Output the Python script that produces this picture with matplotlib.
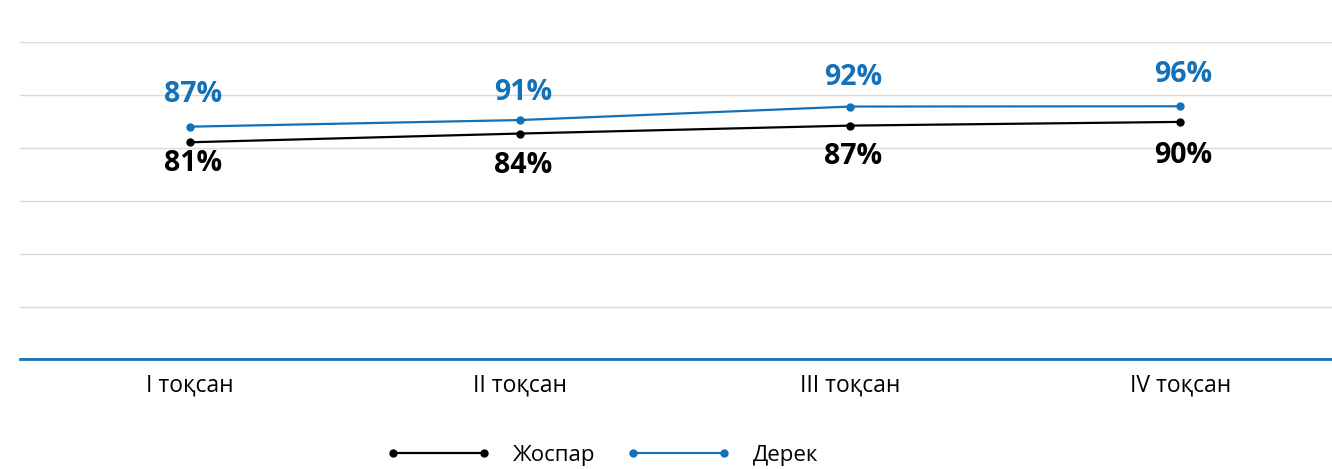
import matplotlib
matplotlib.use("Agg")
import matplotlib.pyplot as plt

# data
quarters = ["I тоқсан", "II тоқсан", "III тоқсан", "IV тоқсан"]
plan_values = [82.1, 85.4, 88.4, 89.8]
fact_values = [88.0, 90.5, 95.6, 95.7]
plan_labels = ["81%", "84%", "87%", "90%"]
fact_labels = ["87%", "91%", "92%", "96%"]
series_names = ["Жоспар", "Дерек"]

blue = "#1271b8"
black = "#000000"

plt.rcParams['font.family'] = ['Open Sans', 'DejaVu Sans']

fig = plt.figure(figsize=(13.32, 4.69), dpi=100)
ax = fig.add_axes([20 / 1332, 1 - 359.5 / 469, 1 - 20 / 1332, 317.5 / 469])

x = list(range(len(quarters)))
ax.plot(x, plan_values, color=black, lw=1.6, marker="o", ms=5, label=series_names[0], zorder=3)
ax.plot(x, fact_values, color=blue, lw=1.6, marker="o", ms=5, label=series_names[1], zorder=3)

# data labels (offsets in points)
fact_off = [23, 20, 21, 23]
plan_off = [-15, -23, -22, -24]
for i in x:
    ax.annotate(fact_labels[i], (i, fact_values[i]), xytext=(2, fact_off[i]),
                textcoords="offset points", ha="center", va="center",
                fontsize=20.5, fontweight="bold", color=blue)
    ax.annotate(plan_labels[i], (i, plan_values[i]), xytext=(2, plan_off[i]),
                textcoords="offset points", ha="center", va="center",
                fontsize=20.5, fontweight="bold", color=black)

ax.set_xlim(-0.515, 3.46)
ax.set_ylim(0, 120)
ax.set_yticks(range(0, 121, 20))
ax.yaxis.grid(True, color="#d9d9d9", lw=1)
ax.set_axisbelow(True)
ax.tick_params(axis="y", left=False, labelleft=False)
ax.tick_params(axis="x", length=0, pad=10, labelsize=16.5)
ax.set_xticks(x)
ax.set_xticklabels(quarters)
for s in ["top", "right", "left"]:
    ax.spines[s].set_visible(False)
ax.spines["bottom"].set_color(blue)
ax.spines["bottom"].set_linewidth(2)

fig.legend(loc="center left", bbox_to_anchor=(386 / 1332, 1 - 455 / 469), ncol=2,
           frameon=False, numpoints=2, fontsize=16, handlelength=4.7,
           handletextpad=1.0, columnspacing=1.4, borderpad=0, borderaxespad=0)

plt.savefig("out.png", dpi=100)
plt.close()
